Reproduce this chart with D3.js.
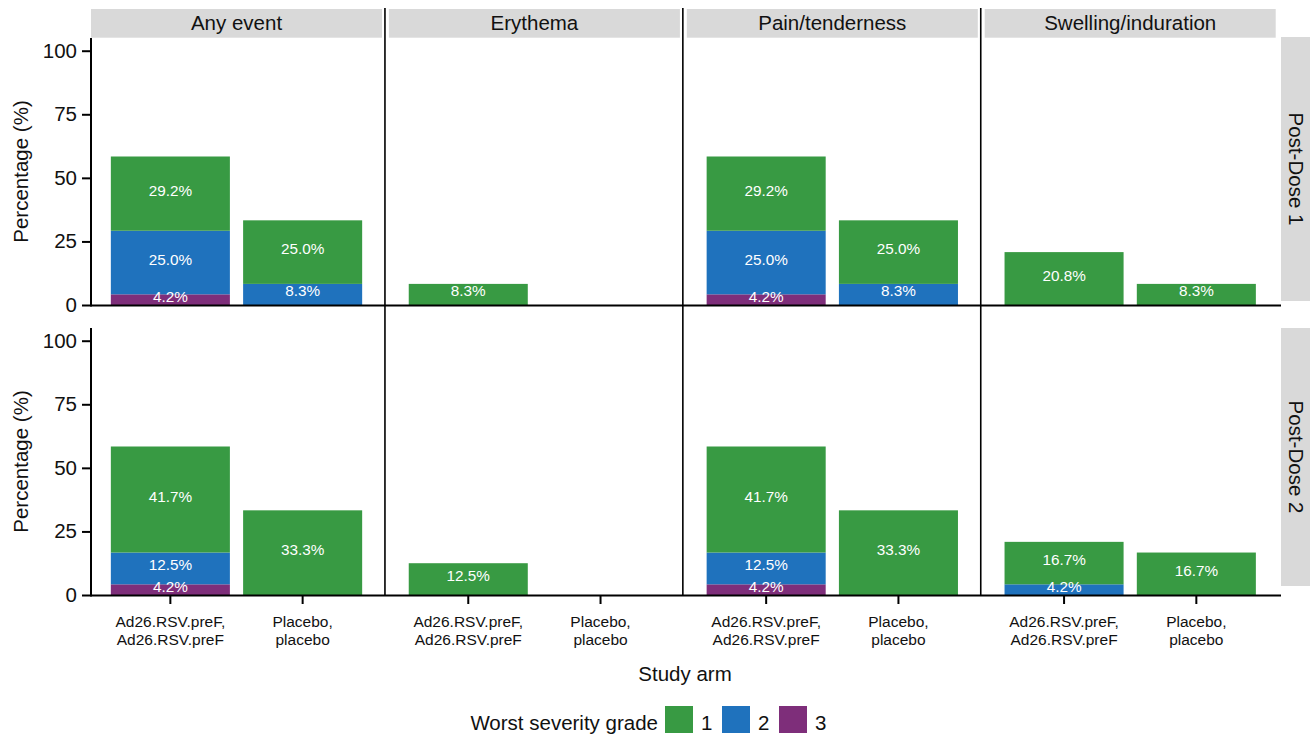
<!DOCTYPE html>
<html>
<head>
<meta charset="utf-8">
<script src="https://cdn.jsdelivr.net/npm/d3@7"></script>
<style>
  body { margin: 0; background: #ffffff; }
  text { font-family: "Liberation Sans", Arial, Helvetica, sans-serif; }
</style>
</head>
<body>
<svg id="chart" width="1314" height="737"></svg>
<script>
// ---- data -------------------------------------------------------------
const events = ["Any event", "Erythema", "Pain/tenderness", "Swelling/induration"];
const doses = ["Post-Dose 1", "Post-Dose 2"];
const arms = ["Ad26", "Placebo"];
const armLabels = [["Ad26.RSV.preF,", "Ad26.RSV.preF"], ["Placebo,", "placebo"]];
const grades = ["1", "2", "3"];
const gradeColors = ["#389a43", "#1f72bd", "#7e2e7a"];
const yTicks = [0, 25, 50, 75, 100];

// percentages per [dose][event][arm]
const grade1 = [
  [[29.2, 25.0], [8.3, 0], [29.2, 25.0], [20.8, 8.3]],
  [[41.7, 33.3], [12.5, 0], [41.7, 33.3], [16.7, 16.7]]
];
const grade2 = [
  [[25.0, 8.3], [0, 0], [25.0, 8.3], [0, 0]],
  [[12.5, 0], [0, 0], [12.5, 0], [4.2, 0]]
];
const grade3 = [
  [[4.2, 0], [0, 0], [4.2, 0], [0, 0]],
  [[4.2, 0], [0, 0], [4.2, 0], [0, 0]]
];

// ---- layout -----------------------------------------------------------
const svg = d3.select("#chart");
const colX0 = 91, panelW = 291, colStep = 297.9;
const rowBox = [{ top: 38, bottom: 305 }, { top: 328, bottom: 595 }];
const rowStrip = [{ top: 37, bottom: 301 }, { top: 328, bottom: 586 }];
const stripTop = 9, stripBottom = 37.7;
const rightStripX = 1281, rightStripW = 29;
const ink = "#111111";

const color = d3.scaleOrdinal().domain(grades).range(gradeColors);
const stack = d3.stack().keys(["3", "2", "1"]);

function panelX(c) {
  const x0 = colX0 + c * colStep;
  return d3.scaleBand().domain(arms).range([x0, x0 + panelW])
    .paddingInner(0.1).paddingOuter(0.15);
}

// column strips
events.forEach((ev, c) => {
  const x0 = colX0 + c * colStep;
  svg.append("rect").attr("x", x0).attr("y", stripTop)
    .attr("width", panelW).attr("height", stripBottom - stripTop)
    .attr("fill", "#d9d9d9");
  svg.append("text").attr("x", x0 + panelW / 2).attr("y", 29.5)
    .attr("text-anchor", "middle").attr("font-size", 20.5).attr("fill", ink)
    .text(ev);
});

// row strips
doses.forEach((d, r) => {
  const s = rowStrip[r];
  svg.append("rect").attr("x", rightStripX).attr("y", s.top)
    .attr("width", rightStripW).attr("height", s.bottom - s.top)
    .attr("fill", "#d9d9d9");
  const cy = (s.top + s.bottom) / 2;
  svg.append("text")
    .attr("transform", `translate(${rightStripX + rightStripW / 2 - 7},${cy}) rotate(90)`)
    .attr("text-anchor", "middle").attr("font-size", 20.5).attr("fill", ink)
    .text(d);
});

// panels
doses.forEach((dose, r) => {
  const box = rowBox[r];
  const y = d3.scaleLinear().domain([0, 105]).range([box.bottom, box.top]);

  events.forEach((ev, c) => {
    const x = panelX(c);
    const rows = arms.map((a, i) => ({
      arm: a,
      "1": grade1[r][c][i],
      "2": grade2[r][c][i],
      "3": grade3[r][c][i]
    }));
    const series = stack(rows);
    const g = svg.append("g");

    series.forEach(s => {
      s.forEach(seg => {
        const v = seg[1] - seg[0];
        if (v <= 0) return;
        g.append("rect")
          .attr("x", x(seg.data.arm)).attr("width", x.bandwidth())
          .attr("y", y(seg[1])).attr("height", y(seg[0]) - y(seg[1]))
          .attr("fill", color(s.key));
      });
    });
    series.forEach(s => {
      s.forEach(seg => {
        const v = seg.data[s.key];
        if (v <= 0) return;
        g.append("text")
          .attr("x", x(seg.data.arm) + x.bandwidth() / 2)
          .attr("y", y((seg[0] + seg[1]) / 2) + 2)
          .attr("text-anchor", "middle").attr("font-size", 15.3)
          .attr("fill", "#ffffff")
          .text(v.toFixed(1) + "%");
      });
    });

    // x ticks on the bottom row
    if (r === doses.length - 1) {
      arms.forEach((a, i) => {
        const cx = x(a) + x.bandwidth() / 2;
        svg.append("line").attr("x1", cx).attr("x2", cx)
          .attr("y1", box.bottom).attr("y2", box.bottom + 9)
          .attr("stroke", "#000").attr("stroke-width", 2);
        const t = svg.append("text").attr("text-anchor", "middle")
          .attr("font-size", 15.5).attr("fill", ink);
        armLabels[i].forEach((ln, k) => {
          t.append("tspan").attr("x", cx).attr("y", 626.5 + k * 18.5).text(ln);
        });
      });
    }
  });

  // y axis
  const ax = svg.append("g").attr("transform", `translate(${colX0},0)`)
    .call(d3.axisLeft(y).tickValues(yTicks).tickSize(9).tickPadding(5));
  ax.select(".domain").remove();
  ax.selectAll(".tick line").attr("stroke", "#000").attr("stroke-width", 2);
  ax.selectAll(".tick text").attr("font-size", 20.5).attr("fill", ink)
    .attr("font-family", "Liberation Sans, Arial, sans-serif");
  svg.append("line").attr("x1", colX0).attr("x2", colX0)
    .attr("y1", box.top).attr("y2", box.bottom + 1.5)
    .attr("stroke", "#000").attr("stroke-width", 2);

  // baseline across all panels
  svg.append("line").attr("x1", colX0).attr("x2", rightStripX)
    .attr("y1", box.bottom + 0.6).attr("y2", box.bottom + 0.6)
    .attr("stroke", "#000").attr("stroke-width", 2);

  // y title
  svg.append("text")
    .attr("transform", `translate(28,${(box.top + box.bottom) / 2}) rotate(-90)`)
    .attr("text-anchor", "middle").attr("font-size", 20.5).attr("fill", ink)
    .text("Percentage (%)");
});

// column separators
for (let c = 1; c < events.length; c++) {
  const xs = colX0 + c * colStep - (colStep - panelW) / 2 - 0.5;
  svg.append("line").attr("x1", xs).attr("x2", xs)
    .attr("y1", 8).attr("y2", rowBox[1].bottom + 1)
    .attr("stroke", "#000").attr("stroke-width", 1.6);
}

// x title
svg.append("text").attr("x", 685).attr("y", 681)
  .attr("text-anchor", "middle").attr("font-size", 20.5).attr("fill", ink)
  .text("Study arm");

// legend
const legY = 706, keySize = 28;
const legX = d3.scalePoint().domain(grades).range([665, 779]);
svg.append("text").attr("x", 658).attr("y", 730)
  .attr("text-anchor", "end").attr("font-size", 20.5).attr("fill", ink)
  .text("Worst severity grade");
grades.forEach(gr => {
  svg.append("rect").attr("x", legX(gr)).attr("y", legY)
    .attr("width", keySize).attr("height", 27).attr("fill", color(gr));
  svg.append("text").attr("x", legX(gr) + keySize + 8).attr("y", 730)
    .attr("font-size", 20.5).attr("fill", ink).text(gr);
});
</script>
</body>
</html>
